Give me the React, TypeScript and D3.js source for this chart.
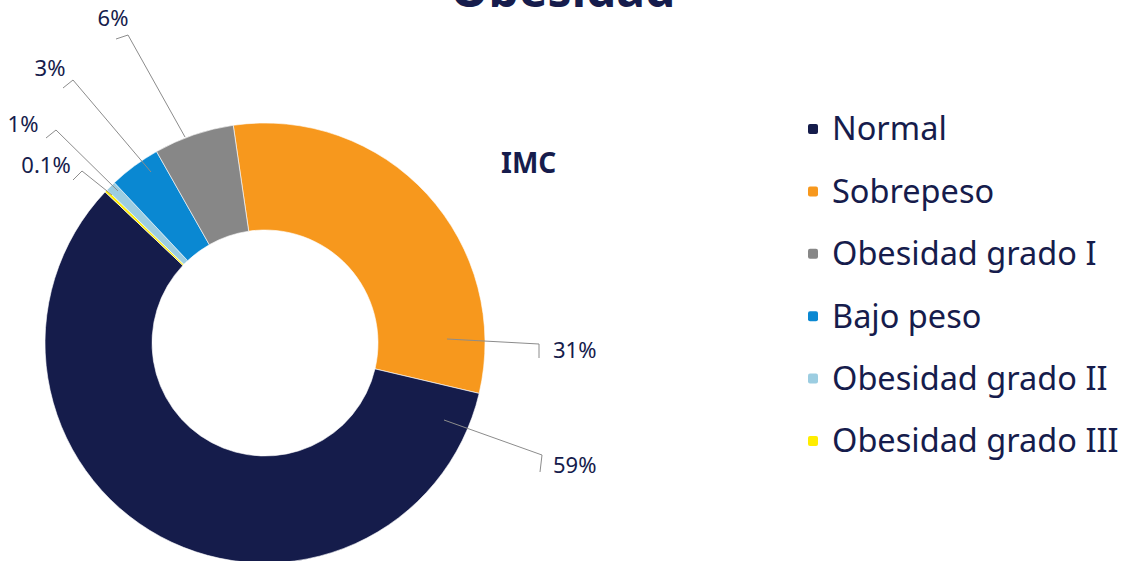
import React from "react";
import * as d3 from "d3";

const categories = ["Normal", "Sobrepeso", "Obesidad grado I", "Bajo peso", "Obesidad grado II", "Obesidad grado III"];
const values = [58.4, 31, 5.9, 3.8, 0.75, 0.2];
const labels = ["59%", "31%", "6%", "3%", "1%", "0.1%"];
const colors = ["#151c4b", "#f7981d", "#878787", "#0a88d2", "#9ccde1", "#ffed00"];
// clockwise drawing order starting at Sobrepeso
const drawOrder = [1, 0, 5, 4, 3, 2];

// label layout: leader start, elbow, end, text position (screen px)
const labelLayout: Record<number, { pts: [number, number][]; tx: number; ty: number; anchor: string }> = {
  1: { pts: [[447, 339], [539, 344], [539, 358]], tx: 553, ty: 358, anchor: "start" },
  0: { pts: [[444, 420], [542, 455], [540, 472]], tx: 553, ty: 473, anchor: "start" },
  2: { pts: [[185, 137], [128, 35], [116, 39]], tx: 113, ty: 26, anchor: "middle" },
  3: { pts: [[151, 172], [73, 80], [63, 88]], tx: 50, ty: 76, anchor: "middle" },
  4: { pts: [[118, 191], [56, 130], [46, 138]], tx: 23, ty: 132, anchor: "middle" },
  5: { pts: [[112, 195], [82, 171], [73, 180]], tx: 46, ty: 173, anchor: "middle" },
};

export default function App() {
  const W = 1127, H = 561;
  const cx = 265, cy = 343, rOuter = 220, rInner = 113;
  const text = "#161c4c";
  const font = "'Noto Sans', 'Open Sans', sans-serif";

  const ordered = drawOrder.map((i) => ({ i, v: values[i] }));
  const startDeg = -8.3;
  const pie = d3
    .pie<{ i: number; v: number }>()
    .sort(null)
    .value((d) => d.v)
    .startAngle((startDeg * Math.PI) / 180)
    .endAngle(((startDeg + 360) * Math.PI) / 180);
  const arcs = pie(ordered);
  const arc = d3.arc<d3.PieArcDatum<{ i: number; v: number }>>().innerRadius(rInner).outerRadius(rOuter);

  const legendY = d3.scalePoint<string>().domain(categories).range([129, 441]);

  return (
    <svg width={W} height={H} style={{ position: "absolute", left: 0, top: 0 }} fontFamily={font}>
      <rect width={W} height={H} fill="#fff" />
      <text x={563} y={7} textAnchor="middle" fontSize={48} fontWeight={700} fill={text}>
        Obesidad
      </text>
      <g transform={`translate(${cx},${cy})`}>
        {arcs.map((a) => (
          <path key={a.data.i} d={arc(a) || ""} fill={colors[a.data.i]} stroke="#fff" strokeWidth={0.6} />
        ))}
      </g>
      <text x={501} y={173} fontSize={28} fontWeight={700} fill={text}>
        IMC
      </text>
      {categories.map((c, i) => {
        const L = labelLayout[i];
        return (
          <g key={c}>
            <polyline
              points={L.pts.map((p) => p.join(",")).join(" ")}
              fill="none"
              stroke="#8c8c8c"
              strokeWidth={1}
            />
            <text x={L.tx} y={L.ty} textAnchor={L.anchor} fontSize={22} fill={text}>
              {labels[i]}
            </text>
          </g>
        );
      })}
      {categories.map((c, i) => (
        <g key={"lg" + c} transform={`translate(0,${legendY(c)})`}>
          <rect x={808} y={-5} width={10} height={10} rx={2} fill={colors[i]} />
          <text x={832} y={0} dy="0.35em" fontSize={32.5} fill={text}>
            {c}
          </text>
        </g>
      ))}
    </svg>
  );
}
